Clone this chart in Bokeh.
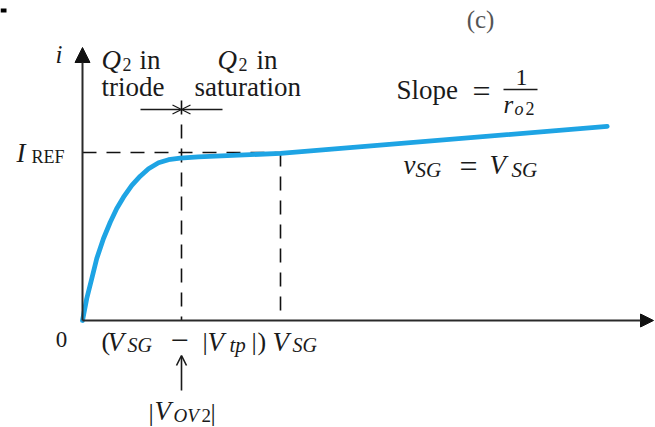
from bokeh.plotting import figure
from bokeh.models import Range1d, Arrow, NormalHead, OpenHead, BoxAnnotation
from bokeh.core.properties import value
from bokeh.embed import file_html
from bokeh.resources import INLINE

# Q2 drain current vs. source-drain voltage for the current mirror.
# Voltage is in units of |V_OV2|, current in units of I_REF.
v_sd = [0.0, 0.043, 0.094, 0.144, 0.212, 0.280, 0.346, 0.414, 0.498, 0.583,
        0.667, 0.768, 0.869, 0.987, 1.17, 2.0, 5.3]
i_d = [0.0, 0.131, 0.250, 0.369, 0.488, 0.585, 0.667, 0.734, 0.804, 0.859,
       0.903, 0.939, 0.957, 0.966, 0.974, 0.995, 1.155]

V_OV = 1.0      # |V_OV2| = V_SG - |V_tp|
V_SG = 2.0
I_REF = 1.0

W, H = 655, 427
# canvas placement of the origin and scale (pixels per unit)
X0, Y0 = 82, 320
SX, SY = 99.0, 168.0
TEXT_DY = -9    # baseline correction for the svg text renderer


def X(px):
    return (px - X0) / SX


def Y(py):
    return (Y0 - py) / SY


SERIF = "Liberation Serif"
INK = "#1a1a1a"
BLUE = "#1ea4e4"

p = figure(width=W, height=H, output_backend="svg", toolbar_location=None,
           x_range=Range1d(X(0), X(W)), y_range=Range1d(Y(H), Y(0)),
           x_axis_type=None, y_axis_type=None, min_border=0,
           outline_line_color=None, background_fill_color="white",
           border_fill_color="white")
p.grid.visible = False

# axes drawn as arrows
p.add_layout(Arrow(x_start=0, y_start=0, x_end=0, y_end=Y(47),
                   line_color="#2a2a2a", line_width=2,
                   end=NormalHead(size=15, fill_color="#111111", line_color="#111111")))
p.add_layout(Arrow(x_start=0, y_start=0, x_end=X(653), y_end=0,
                   line_color="#2a2a2a", line_width=2,
                   end=NormalHead(size=13, fill_color="#111111", line_color="#111111")))

# dashed guide lines
dash = dict(line_color="#111111", line_width=1.6, line_dash="14 10")
p.line([0, V_SG], [I_REF, I_REF], **dash)
p.line([V_OV, V_OV], [Y(100), 0], **dash)
p.line([V_SG, V_SG], [I_REF, 0], **dash)

# the characteristic
p.line(v_sd, i_d, line_color=BLUE, line_width=4.8,
       line_cap="round", line_join="round")

# boundary arrows between triode and saturation
for xs in (X(140), X(222)):
    p.add_layout(Arrow(x_start=xs, y_start=Y(109), x_end=V_OV, y_end=Y(109),
                       line_color=INK, line_width=1.3,
                       end=OpenHead(size=9, line_color=INK, line_width=1.3)))

# pointer to |V_OV2|
p.add_layout(Arrow(x_start=V_OV, y_start=Y(390), x_end=V_OV, y_end=Y(355),
                   line_color=INK, line_width=1.6,
                   end=OpenHead(size=10, line_color=INK, line_width=1.6)))

# small mark in the top-left corner
p.add_layout(BoxAnnotation(left=X(0), right=X(6), top=Y(8), bottom=Y(12),
                           fill_color="black", fill_alpha=1.0, line_color=None))


def put(s, px, py, size, italic=False, align="left", color=INK):
    p.text(x=[X(px)], y=[Y(py + TEXT_DY)], text=[s], text_font=value(SERIF),
           text_font_size=f"{size}px",
           text_font_style="italic" if italic else "normal",
           text_align=align, text_baseline="alphabetic", text_color=color)


# region labels
put("i", 55, 63, 25, italic=True)
put("Q", 101, 68, 27, italic=True)
put("2", 122, 73, 18)
put("in", 139, 68, 27)
put("triode", 101, 95, 27)
put("Q", 217, 68, 27, italic=True)
put("2", 238, 73, 18)
put("in", 256, 68, 27)
put("saturation", 194, 95, 27)
put("(c)", 480, 28, 25, align="center", color="#555555")

# slope annotation
put("Slope", 396, 98, 27)
put("=", 481, 99, 32, align="center")
put("1", 521, 86, 24, align="center")
p.segment(x0=[X(503)], y0=[Y(89)], x1=[X(537)], y1=[Y(89)],
          line_color=INK, line_width=1.6)
put("r", 503, 113, 25, italic=True)
put("o", 514, 117, 18, italic=True)
put("2", 525, 117, 18)

put("v", 403, 173, 27, italic=True)
put("SG", 415, 178, 21, italic=True)
put("=", 468, 174, 32, align="center")
put("V", 489, 173, 27, italic=True)
put("SG", 511, 178, 21, italic=True)

# I_REF level
put("I", 16, 161, 27, italic=True)
put("REF", 31, 165, 18)

# x-axis labels
put("0", 61, 348, 23, align="center")
put("(", 101, 350, 26)
put("V", 107, 350, 27, italic=True)
put("SG", 127, 353, 20, italic=True)
put("\u2212", 179, 349, 32, align="center")
put("|", 202, 350, 26)
put("V", 207, 350, 27, italic=True)
put("tp", 229, 353, 21, italic=True)
put("|", 251, 350, 26)
put(")", 257, 350, 26)
put("V", 272, 350, 27, italic=True)
put("SG", 292, 353, 20, italic=True)

put("|", 148, 421, 26)
put("V", 154, 419, 27, italic=True)
put("OV", 173, 424, 19, italic=True)
put("2", 201, 424, 19)
put("|", 210, 421, 26)

open("out.html", "w").write(file_html(p, INLINE))
